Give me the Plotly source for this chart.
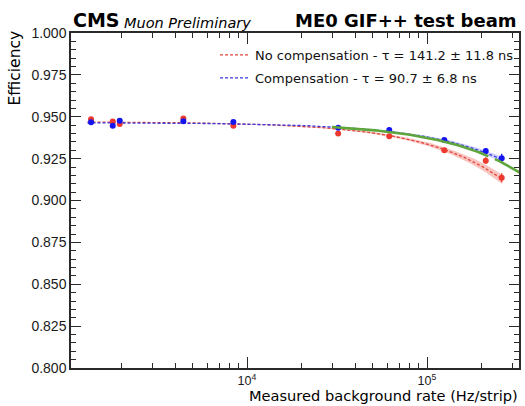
import numpy as np
import plotly.graph_objects as go

# Measured background rate (Hz/strip) for each run
rate = [1360, 1795, 1963, 4430, 8400, 32100, 61700, 124800, 212000, 260000]

# Efficiency without compensation
eff_nocomp = [0.9485, 0.9472, 0.9457, 0.9490, 0.9447, 0.9400, 0.9383, 0.9300, 0.9238, 0.9136]
err_nocomp = [0.0008, 0.0008, 0.0008, 0.0008, 0.0008, 0.0009, 0.0010, 0.0012, 0.0020, 0.0027]

# Efficiency with compensation
eff_comp = [0.9467, 0.9447, 0.9476, 0.9473, 0.9469, 0.9435, 0.9421, 0.9361, 0.9296, 0.9252]
err_comp = [0.0008, 0.0008, 0.0008, 0.0008, 0.0008, 0.0009, 0.0010, 0.0012, 0.0018, 0.0027]

# Dead-time fit results: eff = eff0 * exp(-rate * tau)
fit_nocomp = dict(eff0=0.9470, tau=141.2e-9, dtau=11.8e-9)
fit_comp = dict(eff0=0.9465, tau=90.7e-9, dtau=6.8e-9)

x_ticks = [1e4, 1e5]
x_ticktext = ["10<sup>4</sup>", "10<sup>5</sup>"]
x_minor = [2e3, 3e3, 4e3, 5e3, 6e3, 7e3, 8e3, 9e3,
           2e4, 3e4, 4e4, 5e4, 6e4, 7e4, 8e4, 9e4, 2e5, 3e5]

RED = "#ee3a2e"
RED_LINE = "#e2463c"
RED_BAND = "rgba(240,110,100,0.40)"
BLUE = "#1414f0"
BLUE_LINE = "#3a3ae0"
BLUE_BAND = "rgba(120,120,255,0.35)"
GREEN = "#5ea63c"
AXIS = "#2a2a2a"

W, H = 525, 406
ML, MR, MT, MB = 71, 0, 33, 38
PW = W - ML - MR
PH = H - MT - MB
FRAME_W = 448
XDOM = FRAME_W / PW
PX_PER_DECADE = 180.0
X0 = 3.0222
X1 = X0 + FRAME_W / PX_PER_DECADE
X1_EXT = X0 + PW / PX_PER_DECADE


def model(r, eff0, tau):
    return eff0 * np.exp(-np.asarray(r) * tau)


r_fit = np.logspace(np.log10(1300), np.log10(262000), 200)
r_ext = np.logspace(np.log10(31000), np.log10(400000), 120)

fig = go.Figure()

for fit, band in [(fit_nocomp, RED_BAND), (fit_comp, BLUE_BAND)]:
    lo = model(r_fit, fit["eff0"], fit["tau"] + fit["dtau"])
    hi = model(r_fit, fit["eff0"], fit["tau"] - fit["dtau"])
    fig.add_trace(go.Scatter(
        x=np.concatenate([r_fit, r_fit[::-1]]),
        y=np.concatenate([hi, lo[::-1]]),
        fill="toself", fillcolor=band, line=dict(width=0),
        hoverinfo="skip", showlegend=False,
    ))

fig.add_trace(go.Scatter(
    x=r_fit, y=model(r_fit, fit_nocomp["eff0"], fit_nocomp["tau"]),
    mode="lines", line=dict(color=RED_LINE, width=1.3, dash="3px,2px"),
    name="No compensation - τ = 141.2 ± 11.8 ns", legend="legend",
))
fig.add_trace(go.Scatter(
    x=r_fit, y=model(r_fit, fit_comp["eff0"], fit_comp["tau"]),
    mode="lines", line=dict(color=BLUE_LINE, width=1.3, dash="3px,2px"),
    name="Compensation - τ = 90.7 ± 6.8 ns", legend="legend2",
))

# extrapolation of the compensated fit towards higher rates
fig.add_trace(go.Scatter(
    x=r_ext, y=model(r_ext, fit_comp["eff0"], fit_comp["tau"]),
    mode="lines", line=dict(color=GREEN, width=2.6, dash="160px,7px"),
    xaxis="x2", showlegend=False, hoverinfo="skip",
))

fig.add_trace(go.Scatter(
    x=rate, y=eff_nocomp, mode="markers",
    marker=dict(color=RED, size=6),
    error_y=dict(type="data", array=err_nocomp, color=RED, width=0, thickness=1.3),
    showlegend=False,
))
fig.add_trace(go.Scatter(
    x=rate, y=eff_comp, mode="markers",
    marker=dict(color=BLUE, size=6),
    error_y=dict(type="data", array=err_comp, color=BLUE, width=0, thickness=1.3),
    showlegend=False,
))

axis_common = dict(
    showline=True, linecolor=AXIS, linewidth=1.5, mirror="ticks",
    ticks="inside", tickcolor=AXIS, tickwidth=1, showgrid=False, zeroline=False,
)

legend_common = dict(
    xanchor="left", yanchor="top", bgcolor="rgba(0,0,0,0)",
    font=dict(size=13, family="DejaVu Sans", color="#111"), itemwidth=30,
)

fig.update_layout(
    width=W, height=H,
    margin=dict(l=ML, r=MR, t=MT, b=MB),
    paper_bgcolor="white", plot_bgcolor="white",
    font=dict(family="Liberation Sans", color="#111"),
    xaxis=dict(
        type="log", range=[X0, X1], domain=[0, XDOM],
        tickvals=x_ticks, ticktext=x_ticktext, ticklen=11,
        tickfont=dict(size=12.5, color="#1a1a1a", family="Liberation Sans"),
        minor=dict(tickvals=x_minor, ticklen=5, ticks="inside", tickcolor=AXIS, showgrid=False),
        **axis_common,
    ),
    xaxis2=dict(
        type="log", range=[X0, X1_EXT], domain=[0, 1], overlaying="x",
        visible=False, showgrid=False, zeroline=False,
    ),
    yaxis=dict(
        range=[0.8, 1.0], dtick=0.025, tickformat=".3f", ticklen=10,
        tickfont=dict(size=14, color="#1a1a1a", family="Liberation Sans"),
        minor=dict(dtick=0.005, ticklen=5, ticks="inside", tickcolor=AXIS, showgrid=False),
        **axis_common,
    ),
    legend=dict(x=(215 - ML) / PW, y=1 - (40 - MT) / PH, **legend_common),
    legend2=dict(x=(215 - ML) / PW, y=1 - (63 - MT) / PH, **legend_common),
    annotations=[
        dict(text="<b>CMS</b>", x=0, y=1, xref="paper", yref="paper",
             xanchor="left", yanchor="bottom", showarrow=False,
             font=dict(size=19, family="DejaVu Sans", color="black")),
        dict(text="<i>Muon Preliminary</i>", x=0, y=1, xref="paper", yref="paper",
             xanchor="left", yanchor="bottom", xshift=51, showarrow=False,
             font=dict(size=14.5, family="DejaVu Sans", color="black")),
        dict(text="<b>ME0 GIF++ test beam</b>", x=XDOM, y=1, xref="paper", yref="paper",
             xanchor="right", yanchor="bottom", showarrow=False,
             font=dict(size=18, family="DejaVu Sans", color="black")),
        dict(text="Measured background rate (Hz/strip)", x=XDOM, y=0,
             xref="paper", yref="paper", xanchor="right", yanchor="bottom",
             yshift=-(MB - 1), borderpad=0, showarrow=False,
             font=dict(size=14.6, family="DejaVu Sans", color="black")),
        dict(text="Efficiency", x=0, y=1, xref="paper", yref="paper",
             xanchor="center", yanchor="top", xshift=-57, yshift=4,
             textangle=-90, showarrow=False,
             font=dict(size=15.5, family="DejaVu Sans", color="black")),
    ],
)

fig.write_html("out.html")
